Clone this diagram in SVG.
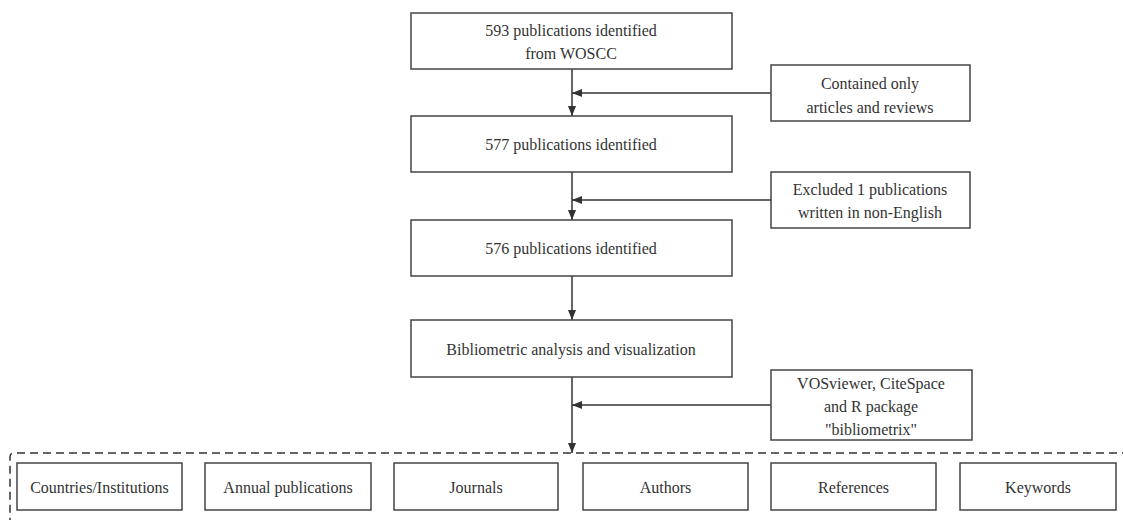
<svg xmlns="http://www.w3.org/2000/svg" width="1123" height="520" viewBox="0 0 1123 520">
<style>
.box{fill:#fff;stroke:#444;stroke-width:1.5}
.t{font-family:"Liberation Serif","Times New Roman",serif;font-size:16px;fill:#333;text-anchor:middle;dominant-baseline:central}
.c{stroke:#333;stroke-width:1.5;fill:none}
.dash{fill:none;stroke:#333;stroke-width:1.5;stroke-dasharray:8 5}
</style>
<defs>
<marker id="ah" viewBox="0 0 10 8" refX="10" refY="4" markerWidth="10" markerHeight="8" markerUnits="userSpaceOnUse" orient="auto">
<path d="M0,0 L10,4 L0,8 Z" fill="#333"/>
</marker>
</defs>
<rect width="1123" height="520" fill="#fff"/>
<g id="connectors">
<line class="c" x1="572" y1="69" x2="572" y2="116" marker-end="url(#ah)"/>
<line class="c" x1="771" y1="93" x2="572" y2="93" marker-end="url(#ah)"/>
<line class="c" x1="572" y1="172" x2="572" y2="220" marker-end="url(#ah)"/>
<line class="c" x1="771" y1="200" x2="572" y2="200" marker-end="url(#ah)"/>
<line class="c" x1="572" y1="276" x2="572" y2="320" marker-end="url(#ah)"/>
<line class="c" x1="572" y1="377" x2="572" y2="453" marker-end="url(#ah)"/>
<line class="c" x1="771" y1="405" x2="572" y2="405" marker-end="url(#ah)"/>
</g>
<g id="group-outline">
<path class="dash" d="M1130,453 L14,453 Q10,453 10,457 L10,530"/>
</g>
<g id="n1"><rect class="box" x="411" y="13" width="321" height="56"/><text class="t" x="571" y="30">593 publications identified</text><text class="t" x="571" y="53">from WOSCC</text></g>
<g id="r1"><rect class="box" x="771" y="65" width="199" height="56"/><text class="t" x="870" y="83">Contained only</text><text class="t" x="870" y="107">articles and reviews</text></g>
<g id="n2"><rect class="box" x="411" y="116" width="321" height="56"/><text class="t" x="571" y="144">577 publications identified</text></g>
<g id="r2"><rect class="box" x="771" y="172" width="199" height="56"/><text class="t" x="870" y="189">Excluded 1 publications</text><text class="t" x="870" y="212">written in non-English</text></g>
<g id="n3"><rect class="box" x="411" y="220" width="321" height="56"/><text class="t" x="571" y="248">576 publications identified</text></g>
<g id="n4"><rect class="box" x="411" y="320" width="321" height="57"/><text class="t" x="571" y="349">Bibliometric analysis and visualization</text></g>
<g id="r3"><rect class="box" x="771" y="370" width="201" height="70"/><text class="t" x="871" y="383">VOSviewer, CiteSpace</text><text class="t" x="871" y="406">and R package</text><text class="t" x="871" y="429">"bibliometrix"</text></g>
<g id="b1"><rect class="box" x="17" y="463" width="165" height="47"/><text class="t" x="99.5" y="487">Countries/Institutions</text></g>
<g id="b2"><rect class="box" x="205" y="463" width="166" height="47"/><text class="t" x="288" y="487">Annual publications</text></g>
<g id="b3"><rect class="box" x="394" y="463" width="164" height="47"/><text class="t" x="476" y="487">Journals</text></g>
<g id="b4"><rect class="box" x="583" y="463" width="165" height="47"/><text class="t" x="665.5" y="487">Authors</text></g>
<g id="b5"><rect class="box" x="771" y="463" width="165" height="47"/><text class="t" x="853.5" y="487">References</text></g>
<g id="b6"><rect class="box" x="960" y="463" width="156" height="47"/><text class="t" x="1038" y="487">Keywords</text></g>
</svg>
